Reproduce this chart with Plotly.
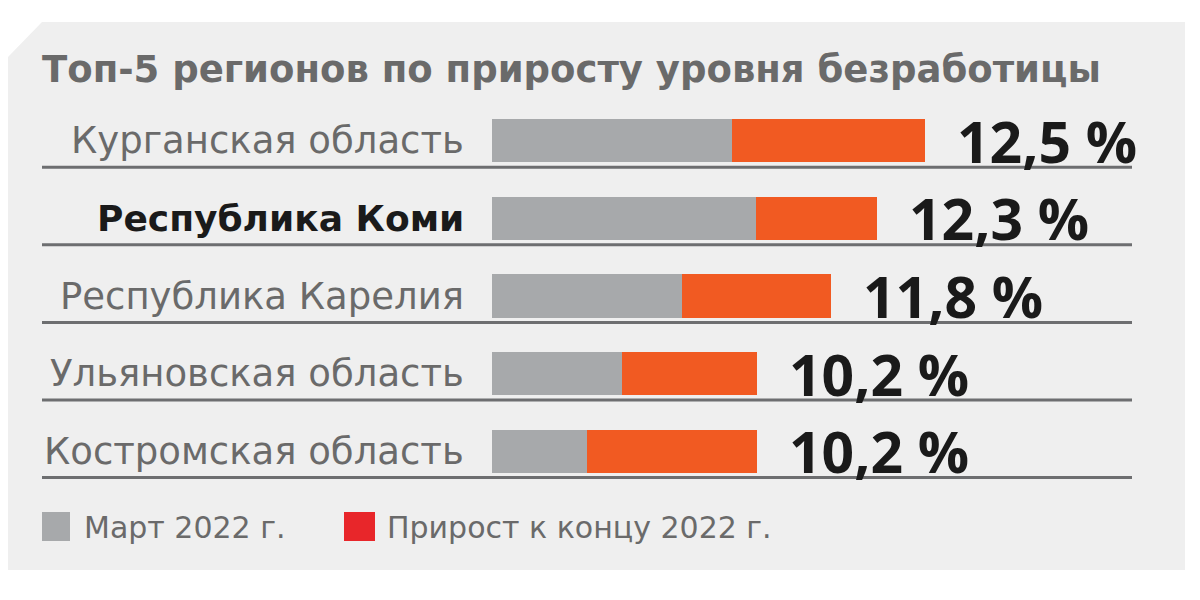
import plotly.graph_objects as go

# ---- data (bar lengths, arbitrary units) ----
regions = ["Курганская область", "Республика Коми", "Республика Карелия",
           "Ульяновская область", "Костромская область"]
march = [6.93, 7.62, 5.48, 3.75, 2.74]
growth = [5.57, 3.49, 4.30, 3.90, 4.91]
value_labels = ["12,5 %", "12,3 %", "11,8 %", "10,2 %", "10,2 %"]
highlight = [False, True, False, False, False]
title_text = "Топ-5 регионов по приросту уровня безработицы"
legend_names = ["Март 2022 г.", "Прирост к концу 2022 г."]

OFF = 8  # page body margin
W, H = 1200, 600
ML, MR, MT, MB = 492 - OFF, 0, 102 - OFF, 600 - (490 - OFF)
PW, PH = W - ML - MR, H - MT - MB
UNIT_PX = 34.64
XMAX = PW / UNIT_PX


def px(x):
    return (x - OFF - ML) / PW


def py(y):
    return 1 - (y - OFF - MT) / PH


FONT = "DejaVu Sans"
VFONT = "Open Sans"
GRAY_TXT = "#6a6a6a"
BAR_GRAY = "#a7a9ab"
BAR_ORANGE = "#f15a22"
LEG_RED = "#e8262a"

ypos = list(range(len(regions)))

fig = go.Figure()
fig.add_trace(go.Bar(y=ypos, x=march, orientation="h", name=legend_names[0],
                     marker=dict(color=BAR_GRAY, line=dict(width=0)), width=0.555,
                     showlegend=False, hoverinfo="skip"))
fig.add_trace(go.Bar(y=ypos, x=growth, orientation="h", name=legend_names[1],
                     marker=dict(color=BAR_ORANGE, line=dict(width=0)), width=0.555,
                     showlegend=False, hoverinfo="skip"))

shapes = []
# background panel with chamfered corner
pts = [(5, 60), (42, 22), (1185, 22), (1185, 570), (5, 570)]
path = "M " + " L ".join(f"{px(x):.5f},{py(y):.5f}" for x, y in pts) + " Z"
shapes.append(dict(type="path", xref="paper", yref="paper", path=path,
                   fillcolor="#efefef", line=dict(width=0), layer="below"))
# row separator lines
for i in ypos:
    shapes.append(dict(type="line", xref="paper", yref="y", x0=px(42), x1=px(1132),
                       y0=i + 0.34, y1=i + 0.34, line=dict(color="#6d6e70", width=3),
                       layer="below"))
# legend squares
shapes.append(dict(type="rect", xref="paper", yref="paper", x0=px(42), x1=px(70),
                   y0=py(541), y1=py(512), fillcolor=BAR_GRAY, line=dict(width=0)))
shapes.append(dict(type="rect", xref="paper", yref="paper", x0=px(344), x1=px(375),
                   y0=py(541), y1=py(512), fillcolor=LEG_RED, line=dict(width=0)))

annotations = []
annotations.append(dict(xref="paper", yref="paper", x=px(40), y=py(69), xanchor="left",
                        yanchor="middle", text=f"<b>{title_text}</b>", showarrow=False,
                        font=dict(family=FONT, size=37, color=GRAY_TXT)))
for i, (reg, hl) in enumerate(zip(regions, highlight)):
    annotations.append(dict(xref="paper", yref="y", x=px(466), y=i, xanchor="right",
                            yanchor="middle", showarrow=False,
                            text=f"<b>{reg}</b>" if hl else reg,
                            font=dict(family=FONT, size=36 if hl else 37,
                                      color="#1a1a1a" if hl else GRAY_TXT)))
    total = march[i] + growth[i]
    annotations.append(dict(xref="x", yref="y", x=total, y=i, xanchor="left",
                            yanchor="middle", xshift=30, showarrow=False,
                            text=f"<b>{value_labels[i]}</b>",
                            font=dict(family=VFONT, size=57, color="#1a1a1a")))
annotations.append(dict(xref="paper", yref="paper", x=px(82), y=py(527), xanchor="left",
                        yanchor="middle", text=legend_names[0], showarrow=False,
                        font=dict(family=FONT, size=30, color=GRAY_TXT)))
annotations.append(dict(xref="paper", yref="paper", x=px(385), y=py(527), xanchor="left",
                        yanchor="middle", text=legend_names[1], showarrow=False,
                        font=dict(family=FONT, size=30, color=GRAY_TXT)))

fig.update_layout(
    width=W, height=H,
    margin=dict(l=ML, r=MR, t=MT, b=MB),
    paper_bgcolor="white", plot_bgcolor="rgba(0,0,0,0)",
    barmode="stack",
    xaxis=dict(range=[0, XMAX], visible=False, fixedrange=True),
    yaxis=dict(range=[4.5, -0.5], visible=False, fixedrange=True),
    shapes=shapes, annotations=annotations,
    showlegend=False,
)

fig.write_html("out.html")
